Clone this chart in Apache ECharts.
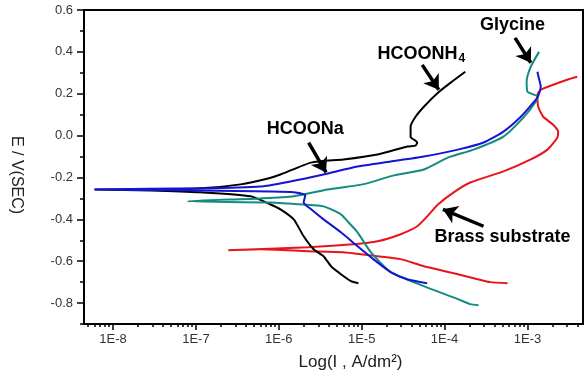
<!DOCTYPE html>
<html>
<head>
<meta charset="utf-8">
<script src="https://cdn.jsdelivr.net/npm/echarts@6/dist/echarts.min.js"></script>
<style>
  html, body { margin: 0; padding: 0; background: #fff; }
  #chart { width: 588px; height: 376px; }
</style>
</head>
<body>
<div id="chart"></div>
<script>
// x = log10(I, A/dm2), y = E / V(SCE)
// each curve: cathodic end -> corrosion tip -> anodic end
const hcoonh4 = [
  [-5.04, -0.705], [-5.13, -0.695], [-5.25, -0.662], [-5.37, -0.624], [-5.46, -0.576],
  [-5.58, -0.543], [-5.70, -0.481], [-5.82, -0.400], [-5.98, -0.352], [-6.10, -0.329],
  [-6.34, -0.290], [-6.94, -0.271], [-7.54, -0.262], [-8.22, -0.257],
  [-7.54, -0.257], [-6.94, -0.252], [-6.46, -0.233], [-6.13, -0.205], [-5.98, -0.186],
  [-5.61, -0.129], [-5.22, -0.114], [-4.81, -0.090], [-4.45, -0.052], [-4.35, -0.048],
  [-4.33, -0.033], [-4.41, -0.005], [-4.41, 0.043], [-4.35, 0.090], [-4.25, 0.138],
  [-4.08, 0.205], [-3.93, 0.252], [-3.75, 0.305]
]
const hcoona = [
  [-4.21, -0.705], [-4.45, -0.686], [-4.65, -0.652], [-4.86, -0.590], [-5.05, -0.529],
  [-5.25, -0.462], [-5.46, -0.400], [-5.61, -0.352], [-5.70, -0.319], [-5.68, -0.286],
  [-5.82, -0.271], [-6.10, -0.267], [-6.94, -0.262], [-8.22, -0.257],
  [-6.94, -0.252], [-6.22, -0.243], [-5.86, -0.219], [-5.46, -0.186], [-5.05, -0.148],
  [-4.65, -0.124], [-4.25, -0.100], [-3.84, -0.067], [-3.53, -0.033], [-3.29, 0.019],
  [-3.08, 0.090], [-2.93, 0.157], [-2.87, 0.190], [-2.84, 0.233], [-2.87, 0.286],
  [-2.88, 0.305]
]
const glycine = [
  [-3.59, -0.810], [-3.69, -0.805], [-3.84, -0.781], [-4.25, -0.719], [-4.65, -0.652],
  [-4.89, -0.557], [-5.05, -0.462], [-5.17, -0.410], [-5.25, -0.376], [-5.46, -0.338],
  [-5.70, -0.329], [-6.10, -0.319], [-7.10, -0.314],
  [-6.22, -0.300], [-5.82, -0.290], [-5.41, -0.257], [-4.99, -0.233], [-4.61, -0.190],
  [-4.25, -0.162], [-3.96, -0.105], [-3.65, -0.067], [-3.29, -0.005], [-3.05, 0.086],
  [-2.90, 0.162], [-2.88, 0.186], [-3.00, 0.210], [-3.01, 0.257], [-2.96, 0.329],
  [-2.86, 0.400]
]
const brass = [
  [-3.24, -0.705], [-3.45, -0.700], [-3.60, -0.686], [-3.84, -0.662], [-4.25, -0.624],
  [-4.53, -0.590], [-4.81, -0.576], [-5.22, -0.557], [-5.65, -0.552], [-6.22, -0.543],
  [-6.61, -0.548],
  [-5.65, -0.533], [-5.10, -0.519], [-4.81, -0.505], [-4.53, -0.471], [-4.33, -0.433],
  [-4.21, -0.386], [-4.08, -0.329], [-3.89, -0.271], [-3.69, -0.224], [-3.29, -0.171],
  [-2.96, -0.114], [-2.76, -0.067], [-2.64, -0.010], [-2.63, 0.019], [-2.69, 0.052],
  [-2.81, 0.090], [-2.87, 0.138], [-2.88, 0.195], [-2.84, 0.219], [-2.69, 0.243],
  [-2.52, 0.267], [-2.40, 0.281]
]

const xMajor = [-8, -7, -6, -5, -4, -3]
const yMajor = [-0.8, -0.6, -0.4, -0.2, 0.0, 0.2, 0.4, 0.6]
const yMinor = [-0.9, -0.7, -0.5, -0.3, -0.1, 0.1, 0.3, 0.5]

// annotation text position and arrow [from, to], in data units
const labels = {
  hcoona: { text: 'HCOONa', at: [-5.68, 0.029], arrow: [[-5.64, -0.033], [-5.43, -0.176]] },
  hcoonh4: { text: 'HCOONH4', at: [-4.28, 0.390], arrow: [[-4.27, 0.338], [-4.07, 0.219]] },
  glycine: { text: 'Glycine', at: [-3.18, 0.529], arrow: [[-3.15, 0.467], [-2.96, 0.348]] },
  brass: { text: 'Brass substrate', at: [-3.30, -0.486], arrow: [[-3.53, -0.433], [-4.02, -0.352]] }
}

const X_MIN = -8.35, X_MAX = -2.33

const xMinor = []
for (let n = -9; n <= -3; n++) {
  for (let k = 2; k <= 9; k++) {
    const v = n + Math.log10(k)
    if (v > X_MIN && v < X_MAX) xMinor.push(v)
  }
}

const font = 'Arial, "Liberation Sans", sans-serif'

function note(key) {
  const l = labels[key]
  return {
    markLine: {
      silent: true,
      symbol: ['none', 'arrow'],
      symbolSize: 14,
      itemStyle: { color: '#000' },
      lineStyle: { color: '#000', width: 3.5, type: 'solid' },
      label: { show: false },
      data: [[{ coord: l.arrow[0] }, { coord: l.arrow[1] }]]
    },
    markPoint: {
      silent: true,
      symbol: 'circle',
      symbolSize: 0,
      data: [{ coord: l.at }],
      label: {
        show: true,
        position: 'inside',
        formatter: key === 'hcoonh4' ? '{a|HCOONH}{b|4}' : l.text,
        color: '#000',
        fontFamily: font,
        fontWeight: 'bold',
        fontSize: 18,
        rich: {
          a: { fontFamily: font, fontWeight: 'bold', fontSize: 18, color: '#000' },
          b: { fontFamily: font, fontWeight: 'bold', fontSize: 12, color: '#000', padding: [9, 0, 0, 1] }
        }
      }
    }
  }
}

function curve(name, data, color, key) {
  return Object.assign({
    name,
    type: 'line',
    xAxisIndex: 0,
    yAxisIndex: 0,
    data,
    showSymbol: false,
    smooth: 0.2,
    lineStyle: { color, width: 2 },
    itemStyle: { color },
    z: 2
  }, note(key))
}

const chart = echarts.init(document.getElementById('chart'), null, { renderer: 'canvas' })

chart.setOption({
  animation: false,
  backgroundColor: '#fff',
  grid: {
    left: 83, right: 5, top: 10, bottom: 51,
    show: true, borderColor: '#000', borderWidth: 2, backgroundColor: 'transparent'
  },
  xAxis: [{
    type: 'value',
    min: X_MIN,
    max: X_MAX,
    position: 'bottom',
    name: 'Log(I , A/dm²)',
    nameLocation: 'middle',
    nameGap: 30,
    nameTextStyle: { fontFamily: font, fontSize: 17, color: '#222', padding: [0, 0, 0, 34] },
    axisLine: { show: true, onZero: false, lineStyle: { color: '#000', width: 2 } },
    axisTick: { show: true, inside: false, length: 6, customValues: xMajor, lineStyle: { color: '#000', width: 1.5 } },
    axisLabel: {
      customValues: xMajor,
      margin: 9,
      fontFamily: font,
      fontSize: 13,
      color: '#333',
      formatter: v => '1E' + Math.round(v)
    },
    splitLine: { show: false }
  }, {
    type: 'value',
    min: X_MIN,
    max: X_MAX,
    position: 'bottom',
    axisLine: { show: false, onZero: false },
    axisTick: { show: true, inside: false, length: 3, customValues: xMinor, lineStyle: { color: '#000', width: 1.5 } },
    axisLabel: { show: false },
    splitLine: { show: false }
  }],
  yAxis: [{
    type: 'value',
    min: -0.9,
    max: 0.6,
    position: 'left',
    name: 'E / V(SEC)',
    nameLocation: 'middle',
    nameRotate: -90,
    nameGap: 60,
    nameTextStyle: { fontFamily: font, fontSize: 16, color: '#222', padding: [0, 0, 0, 16] },
    axisLine: { show: true, onZero: false, lineStyle: { color: '#000', width: 2 } },
    axisTick: { show: true, inside: false, length: 7, customValues: yMajor, lineStyle: { color: '#000', width: 1.5 } },
    axisLabel: {
      customValues: yMajor,
      margin: 11,
      fontFamily: font,
      fontSize: 13,
      color: '#333',
      formatter: v => v.toFixed(1)
    },
    splitLine: { show: false }
  }, {
    type: 'value',
    min: -0.9,
    max: 0.6,
    position: 'left',
    axisLine: { show: false, onZero: false },
    axisTick: { show: true, inside: false, length: 4, customValues: yMinor, lineStyle: { color: '#000', width: 1.5 } },
    axisLabel: { show: false },
    splitLine: { show: false }
  }],
  series: [
    curve('Brass substrate', brass, '#e8141a', 'brass'),
    curve('HCOONH4', hcoonh4, '#000000', 'hcoonh4'),
    curve('Glycine', glycine, '#138a82', 'glycine'),
    curve('HCOONa', hcoona, '#1414d2', 'hcoona')
  ]
})
</script>
</body>
</html>
